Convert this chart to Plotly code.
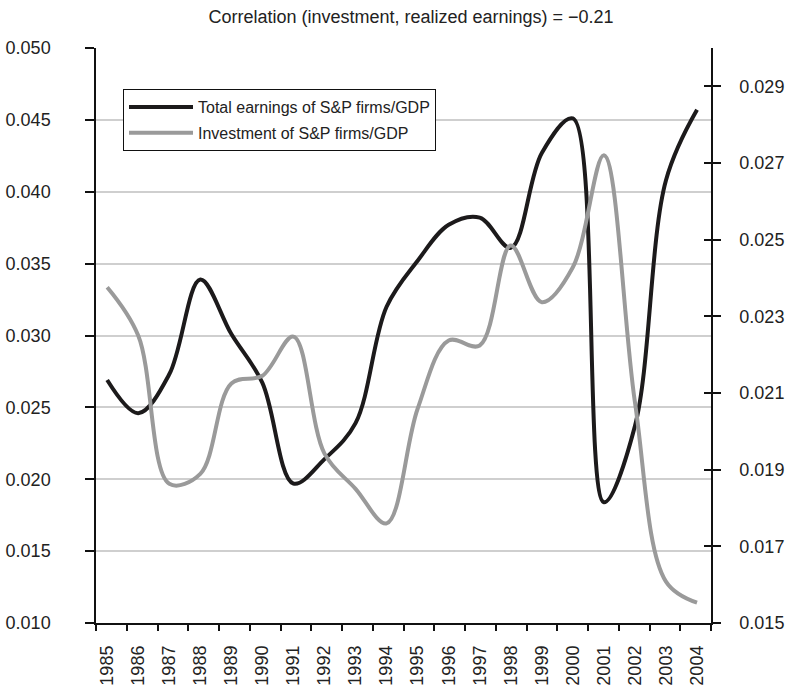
import plotly.graph_objects as go

years = [str(y) for y in range(1985, 2005)]

earnings = [0.0269, 0.0246, 0.0273, 0.0339, 0.0301, 0.0267, 0.0197, 0.0214, 0.0239,
            0.0320, 0.0352, 0.0377, 0.0382, 0.0361, 0.0427, 0.0451, 0.0184, 0.0237,
            0.0408, 0.0457]

investment = [0.02376, 0.02250, 0.01863, 0.01889, 0.02125, 0.02145, 0.02247, 0.01942,
              0.01850, 0.01760, 0.02059, 0.02237, 0.02224, 0.02485, 0.02337, 0.02428,
              0.02720, 0.02076, 0.01608, 0.01553]

left_ticks = [0.010, 0.015, 0.020, 0.025, 0.030, 0.035, 0.040, 0.045, 0.050]
right_ticks = [0.015, 0.017, 0.019, 0.021, 0.023, 0.025, 0.027, 0.029]

title_text = "Correlation (investment, realized earnings) = \u22120.21"
name_earn = "Total earnings of S&P firms/GDP"
name_inv = "Investment of S&P firms/GDP"

FONT = "Liberation Sans, Arial, Helvetica, sans-serif"
TXT = "#222222"
AX = "#111111"
xr = [-0.36, 19.45]
n_bound = 21
bounds = [xr[0] + k * (xr[1] - xr[0]) / (n_bound - 1) for k in range(n_bound)]

fig = go.Figure()
fig.add_trace(go.Scatter(x=years, y=earnings, name=name_earn, mode="lines",
                         legendgroup="a",
                         line=dict(color="#1c1a1b", width=4, shape="spline", smoothing=1.0),
                         xaxis="x", yaxis="y"))
fig.add_trace(go.Scatter(x=years, y=investment, name=name_inv, mode="lines",
                         legendgroup="b",
                         line=dict(color="#9a9a9a", width=4, shape="spline", smoothing=1.0),
                         xaxis="x", yaxis="y2"))
# helper invisible trace so the tick-only overlay axes get drawn
fig.add_trace(go.Scatter(x=[None], y=[None], showlegend=False, hoverinfo="skip",
                         xaxis="x2", yaxis="y3"))

fig.update_layout(
    width=786, height=689,
    margin=dict(l=96, r=75, t=48, b=66, autoexpand=False),
    paper_bgcolor="white", plot_bgcolor="white",
    font=dict(family=FONT, size=18, color=TXT),
    title=dict(text=title_text, x=411 / 786, xanchor="center", y=1 - 17 / 689, yanchor="middle",
               font=dict(family=FONT, size=18, color=TXT)),
    showlegend=True,
    legend=dict(x=(123 - 96) / 615, y=(623 - 89) / 575, xanchor="left", yanchor="top",
                bordercolor=AX, borderwidth=1, bgcolor="white",
                font=dict(family=FONT, size=16, color=TXT),
                itemwidth=64, tracegroupgap=2, traceorder="grouped"),
    xaxis=dict(type="category", range=xr, tickvals=years, ticktext=years,
               ticks="", tickangle=-90, showgrid=False, zeroline=False,
               showline=False, ticklabelstandoff=18, automargin=False,
               tickfont=dict(family=FONT, size=18, color=TXT)),
    xaxis2=dict(overlaying="x", type="linear", range=xr, tickvals=bounds,
                showticklabels=False, ticks="outside", ticklen=6, tickwidth=1.5,
                tickcolor=AX, showline=True, linecolor=AX, linewidth=1.5,
                showgrid=False, zeroline=False, side="bottom", anchor="y", automargin=False),
    yaxis=dict(range=[0.010, 0.050], tickvals=left_ticks,
               ticktext=[f"{v:.3f}" for v in left_ticks],
               ticks="outside", ticklen=9, tickwidth=1.5, tickcolor=AX,
               showline=True, linecolor=AX, linewidth=1.5,
               showgrid=True, gridcolor="#cfcfcf", gridwidth=1.5, zeroline=False,
               ticklabelstandoff=31, automargin=False,
               tickfont=dict(family=FONT, size=18, color=TXT)),
    yaxis2=dict(overlaying="y", side="right", range=[0.015, 0.030], tickvals=right_ticks,
                ticktext=[f"{v:.3f}" for v in right_ticks],
                ticks="outside", ticklen=8, tickwidth=1.5, tickcolor=AX,
                showline=True, linecolor=AX, linewidth=1.5,
                showgrid=False, zeroline=False, ticklabelstandoff=15, automargin=False,
                tickfont=dict(family=FONT, size=18, color=TXT)),
    yaxis3=dict(overlaying="y", side="right", range=[0.015, 0.030], tickvals=right_ticks,
                showticklabels=False, ticks="inside", ticklen=7, tickwidth=1.5,
                tickcolor=AX, showline=False, showgrid=False, zeroline=False,
                anchor="x2", automargin=False),
)

fig.write_html("out.html", config={"displayModeBar": False},
               post_script="document.body.style.margin='0px';document.body.style.overflow='hidden';")
